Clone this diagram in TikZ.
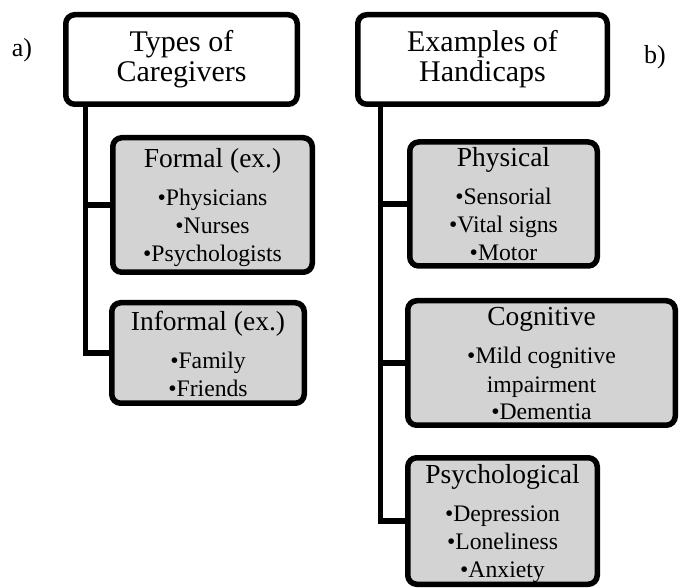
\documentclass[tikz,border=0pt]{standalone}
\usepackage{fontspec}
\setmainfont{Liberation Serif}
\definecolor{boxgray}{RGB}{211,211,211}
\newcommand{\hd}[1]{{\fontsize{27.5}{28}\selectfont\rule{0pt}{25pt}#1}}
\newcommand{\lastln}{\rule[-5pt]{0pt}{5pt}}

\begin{document}
\begin{tikzpicture}[x=1pt,y=-1pt,line width=5.5pt,
                    title/.style={draw,rounded corners=9pt,fill=white,align=center,
                      inner sep=0pt,font=\fontsize{30}{30}\selectfont},
                    sub/.style={draw,rounded corners=9pt,fill=boxgray,align=center,
                      inner sep=0pt,font=\fontsize{23.7}{28}\selectfont}]
  \tikzstyle{tag}=[font=\fontsize{26}{26}\selectfont]
  \useasboundingbox (0,0) rectangle (681,588);

  \node[tag] (tagA) at (22,50) {a)};
  \node[tag] (tagB) at (655,57) {b)};

  \node[title,minimum width=231.5pt,minimum height=89.5pt] (typesA) at (181.5,59.5) {Types of\\Caregivers};
  \node[title,minimum width=249.5pt,minimum height=89.5pt] (typesB) at (482.5,59.5) {Examples of\\Handicaps};

  \node[sub,minimum width=199.5pt,minimum height=134.5pt] (formal)   at (212.5,205)
       {\hd{Formal (ex.)}\\[10pt]•Physicians\\•Nurses\\•Psychologists\lastln};
  \node[sub,minimum width=192.5pt,minimum height=100.5pt] (informal) at (208,353)
       {\hd{Informal (ex.)}\\[10pt]•Family\\•Friends\lastln};

  \node[sub,minimum width=187.5pt,minimum height=122.5pt] (physical)  at (503.5,204)
       {\hd{Physical}\\[10pt]•Sensorial\\•Vital signs\\•Motor\lastln};
  \node[sub,minimum width=267.5pt,minimum height=124.5pt] (cognitive) at (541.5,363)
       {\hd{Cognitive}\\[10pt]•Mild cognitive\\impairment\\•Dementia\lastln};
  \node[sub,minimum width=189.5pt,minimum height=126.5pt] (psych)     at (502.5,521)
       {\hd{Psychological}\\[10pt]•Depression\\•Loneliness\\•Anxiety\lastln};

  \coordinate (trunkA) at ([xshift=22.25pt]typesA.south west);
  \coordinate (trunkB) at ([xshift=25.25pt]typesB.south west);

  \draw (trunkA) |- (informal.west);
  \draw (trunkA |- formal.west) -- (formal.west);

  \draw (trunkB) |- (psych.west);
  \draw (trunkB |- physical.west) -- (physical.west);
  \draw (trunkB |- cognitive.west) -- (cognitive.west);
\end{tikzpicture}
\end{document}
